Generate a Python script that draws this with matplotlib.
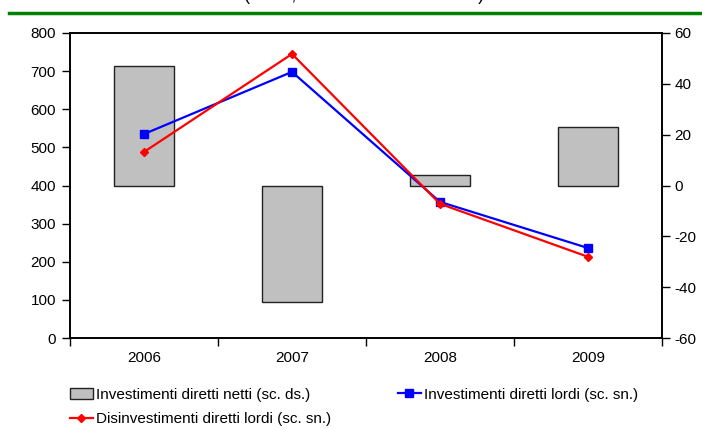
import matplotlib
matplotlib.use("Agg")
import numpy as np
import matplotlib.pyplot as plt
from matplotlib.lines import Line2D

plt.rcParams['font.family'] = ['Liberation Sans', 'DejaVu Sans']
plt.rcParams['font.size'] = 11
plt.rcParams['axes.unicode_minus'] = False

years = ['2006', '2007', '2008', '2009']
netti = [47, -46, 4, 23]                 # right scale
lordi_inv = [535, 698, 357, 236]          # left scale
lordi_disinv = [488, 745, 352, 213]       # left scale

x = np.arange(len(years))

fig = plt.figure(figsize=(7.02, 4.30), dpi=100)
ax = fig.add_axes([70/702, 1 - 338/430, 592/702, 305/430])
ax2 = ax.twinx()

# bars on the right scale, kept behind the lines
bars = ax2.bar(x, netti, width=0.4, color='#c0c0c0', edgecolor='#222222', linewidth=1,
               label='Investimenti diretti netti (sc. ds.)')
ax.set_zorder(ax2.get_zorder() + 1)
ax.patch.set_visible(False)

l_blue, = ax.plot(x, lordi_inv, color='#0000ff', lw=1.6, marker='s', ms=6,
                  label='Investimenti diretti lordi (sc. sn.)')
l_red, = ax.plot(x, lordi_disinv, color='#ff0000', lw=1.6, marker='D', ms=4.5,
                 label='Disinvestimenti diretti lordi (sc. sn.)')

ax.set_xlim(-0.5, 3.5)
ax.set_ylim(0, 800)
ax.set_yticks(range(0, 801, 100))
ax2.set_ylim(-60, 60)
ax2.set_yticks(range(-60, 61, 20))

# category boundaries as x ticks, labels centred under each year
ax.set_xticks(np.arange(-0.5, 4, 1))
ax.set_xticklabels([])
ax.set_xticks(x, minor=True)
ax.set_xticklabels(years, minor=True)
ax.tick_params(axis='x', which='minor', length=0, pad=9)
ax.tick_params(axis='x', which='major', length=6, direction='out', width=1)
ax.tick_params(axis='y', length=6, direction='out', width=1, pad=4)
ax2.tick_params(axis='y', length=6, direction='out', width=1, pad=3)

for a in (ax, ax2):
    for s in a.spines.values():
        s.set_linewidth(1.2)

fig.legend([bars, l_red, l_blue],
           [bars.get_label(), l_red.get_label(), l_blue.get_label()],
           loc='upper left', bbox_to_anchor=(62/702, 1 - 380/430), ncol=2,
           frameon=False, handlelength=1.5, handletextpad=0.2,
           columnspacing=4.4, labelspacing=0.7, borderpad=0)

# green rule and title above the chart
fig.add_artist(Line2D([9/702, 1], [1 - 13/430, 1 - 13/430], color='#008000', lw=2.5))
fig.text(364/702, 1 - 0.5/430, '(flussi, milioni di euro correnti)', ha='center',
         va='baseline', fontsize=13)

fig.savefig('out.png', dpi=100)
